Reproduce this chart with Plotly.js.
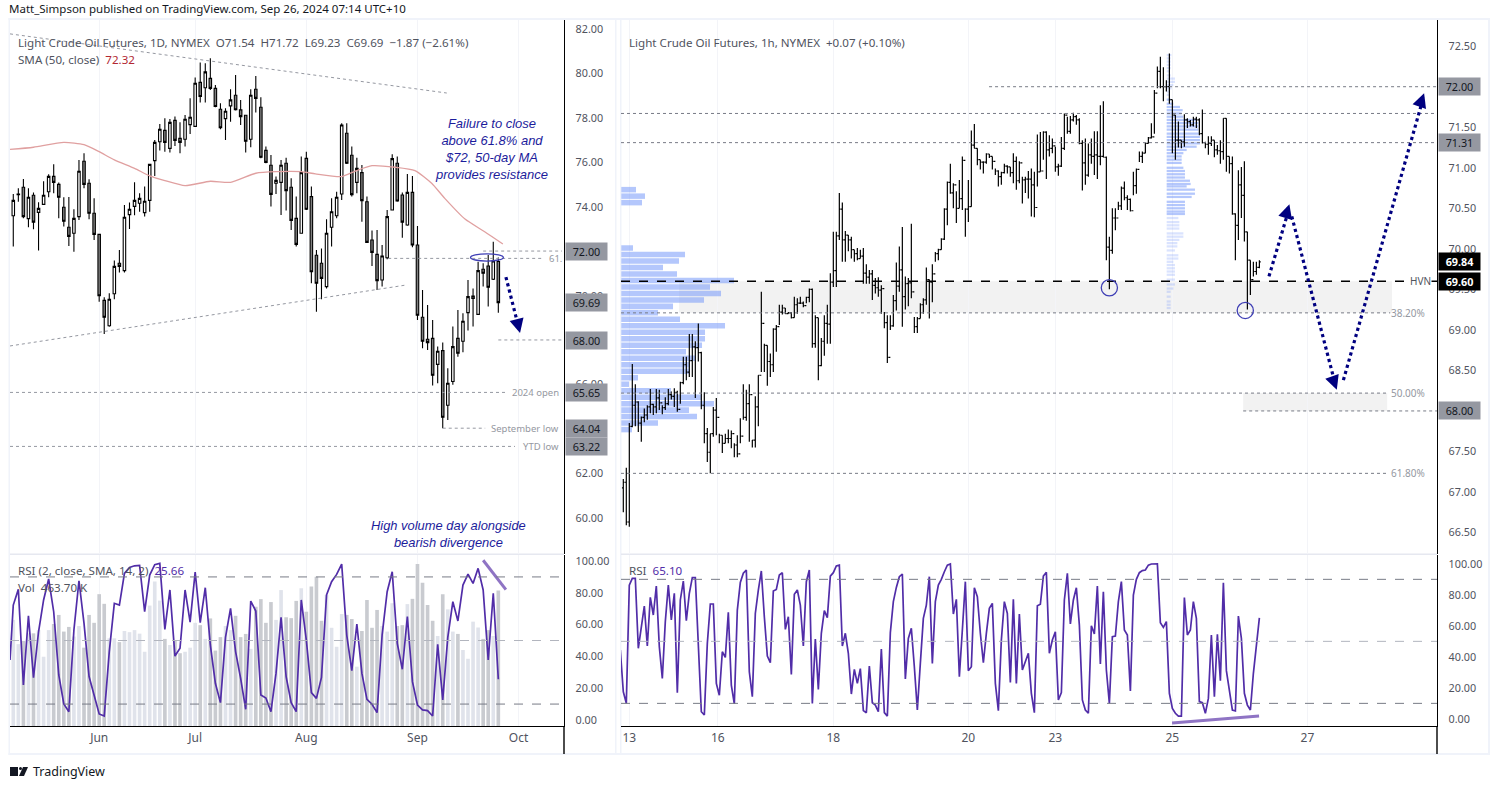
<!DOCTYPE html>
<html><head><meta charset="utf-8">
<script src="https://cdn.plot.ly/plotly-3.0.1.min.js"></script>
<style>html,body{margin:0;padding:0;background:#fff;overflow:hidden}#c{width:1499px;height:789px}</style>
</head><body><div id="c"></div>
<script>
// ---------- Daily chart (left)
const dailyOpen=[73.60,74.55,74.88,73.47,74.52,73.75,74.11,74.68,75.37,75.01,73.98,73.08,72.81,73.56,76.05,75.06,73.71,72.76,69.79,68.65,70.09,71.46,71.13,73.65,74.02,74.16,73.74,74.29,76.08,76.93,77.44,76.63,77.89,77.08,77.04,77.70,77.62,79.60,79.36,79.78,79.33,78.39,77.97,78.54,79.02,78.36,78.12,77.04,79.29,78.48,76.54,75.87,75.06,75.10,75.96,74.88,73.48,72.81,76.18,74.46,71.82,71.46,70.41,73.08,73.60,74.58,77.31,76.32,75.10,75.54,74.23,72.51,71.86,70.71,71.71,73.86,75.96,74.53,73.18,74.65,72.28,69.03,68.04,68.08,66.91,67.53,65.07,66.14,68.08,67.95,69.24,69.88,69.16,71.19,71.34,70.74,71.54];
const dailyHigh=[74.58,74.83,75.25,74.83,74.64,74.20,75.15,75.46,75.91,75.09,74.43,74.44,73.89,76.11,76.41,75.24,74.38,72.76,69.93,70.11,71.58,72.06,74.08,74.19,75.10,74.61,74.91,75.91,77.01,77.73,77.98,77.95,78.06,77.80,78.13,78.88,79.82,80.49,80.46,80.68,79.48,78.66,78.43,79.29,79.93,78.81,78.13,79.29,79.89,78.93,76.71,76.33,75.36,76.11,76.21,75.28,74.46,76.26,76.48,74.91,72.06,72.13,73.44,74.38,74.68,77.76,77.76,76.71,76.21,75.88,74.46,72.93,72.96,72.28,73.86,76.36,76.26,74.64,75.48,75.39,73.14,70.26,69.58,68.91,67.71,67.89,66.74,68.61,69.36,69.21,70.71,70.33,71.53,71.46,71.83,72.43,71.72];
const dailyLow=[72.21,74.23,73.48,73.08,72.99,72.03,74.08,74.43,74.61,73.48,73.11,72.24,71.98,73.41,74.83,73.44,72.51,69.73,68.28,68.60,69.84,71.04,71.04,73.00,73.62,73.78,73.56,73.78,75.39,76.53,76.48,76.44,76.74,76.41,76.71,77.28,77.60,78.69,78.69,79.26,78.48,77.49,77.01,77.83,78.33,77.68,76.44,76.68,78.24,76.18,75.96,74.01,74.58,73.63,73.83,72.96,72.21,72.81,73.86,70.56,69.28,69.84,70.33,72.21,73.48,74.31,75.93,74.46,74.61,73.33,72.39,71.34,70.26,70.41,71.64,73.83,74.23,72.61,73.15,72.18,68.91,67.64,67.56,65.96,66.06,64.04,64.41,65.99,67.26,67.46,68.43,68.61,69.13,70.41,69.51,70.71,69.23];
const dailyClose=[74.29,74.58,73.56,74.43,73.31,73.93,74.52,75.37,75.10,74.43,73.35,72.67,73.48,75.60,75.01,73.71,72.76,70.00,69.03,69.84,71.32,71.32,73.53,73.89,74.29,74.38,74.25,75.91,76.90,77.49,76.90,77.80,76.99,76.90,77.94,78.03,79.56,78.96,80.07,79.33,78.51,77.56,78.30,78.81,78.37,78.06,76.95,79.02,78.88,76.23,76.00,74.56,75.19,75.87,74.73,73.39,72.31,75.54,73.89,71.08,70.56,70.78,72.81,73.78,74.43,77.68,75.96,74.55,75.73,74.28,72.40,71.95,70.68,71.79,73.56,76.17,74.26,73.31,74.65,72.28,69.12,67.95,67.89,66.42,67.50,64.53,66.06,67.71,67.41,68.85,69.96,69.99,71.13,71.01,70.38,71.56,69.69];
const dailyVolumeK=[363,280,291,317,317,328,237,328,349,380,323,339,306,342,268,380,353,451,418,300,300,287,325,321,328,316,254,412,494,429,298,277,294,249,254,268,353,345,298,368,258,304,342,328,377,304,315,264,408,434,353,424,363,465,372,369,428,471,391,477,511,360,448,336,271,383,380,366,203,325,431,336,397,342,323,420,342,345,417,435,554,490,414,360,308,451,399,323,315,260,230,357,337,298,328,308,463.7];
const dailyRsi=[72.3,82.2,22.0,65.6,26.6,55.5,75.5,88.7,68.1,28.3,10.1,5.2,56.6,87.6,60.8,27.3,15.3,3.8,2.5,43.0,73.4,72.3,92.2,96.0,97.0,97.3,68.1,91.2,97.7,98.5,57.0,81.8,40.2,45.1,81.8,61.6,93.1,61.2,83.2,47.2,23.1,10.9,52.0,70.2,43.0,26.2,6.7,74.8,68.5,15.7,13.8,5.2,29.3,64.6,27.3,10.9,5.2,75.5,50.3,17.2,13.6,26.8,78.6,87.0,91.6,98.1,53.4,31.0,60.4,29.3,13.0,9.9,4.6,53.4,80.7,93.3,48.2,31.9,65.0,24.1,9.4,6.3,5.9,2.5,47.6,12.6,52.0,74.4,62.3,84.9,91.8,85.9,95.4,81.8,37.7,79.7,25.66];
const smaIndex=[-0.65,4,10,14,17,20,24,27,30,34,39,43,48,52,57,59.8,65,67.7,71,75.6,79.5,82.8,85.4,89.4,93.3,96.9];
const smaValue=[76.58,76.68,76.90,76.80,76.48,76.11,75.73,75.39,75.18,74.95,75.15,75.10,75.51,75.58,75.58,75.48,75.36,75.61,75.85,75.78,75.63,75.06,74.38,73.45,72.88,72.33];
const dailyPriceTicks=[60,62,66,70,74,76,78,80,82];
const dailyMonthIndex=[17,36,58,80,100];
const dailyMonthText=['Jun','Jul','Aug','Sep','Oct'];
// ---------- Hourly chart (right)
const hourlyOpen=[67.05,67.12,66.63,67.81,68.07,68.11,67.85,67.92,67.95,68.05,68.08,68.05,68.16,68.10,68.04,68.09,68.20,68.18,68.23,68.02,68.35,68.57,68.48,68.62,68.79,68.78,68.72,68.07,67.72,67.49,67.72,68.01,67.92,67.70,67.60,67.66,67.66,67.72,67.58,67.47,67.69,67.92,68.09,68.20,67.64,68.05,68.44,69.08,68.81,68.61,68.57,69.01,69.04,69.22,69.27,69.20,69.21,69.15,69.31,69.33,69.33,69.30,69.40,69.50,68.83,69.15,68.56,68.86,69.08,69.07,69.59,69.73,70.16,70.49,70.11,70.17,70.11,69.99,69.94,69.88,69.91,69.70,69.65,69.69,69.55,69.52,69.49,69.51,69.09,68.66,69.05,69.36,69.54,69.74,69.41,69.57,69.58,69.47,69.04,69.14,69.31,69.37,69.62,69.59,69.69,69.94,69.99,70.12,70.49,70.82,70.69,70.79,70.50,70.62,71.09,70.49,70.52,71.28,71.24,71.10,71.07,71.07,71.17,71.14,71.08,70.96,70.89,70.94,71.02,71.01,70.94,71.08,70.84,71.06,70.85,70.86,70.86,70.79,70.51,70.95,70.96,71.44,71.22,71.24,71.27,71.01,71.02,71.24,71.65,71.45,71.59,71.63,71.59,71.30,71.06,70.91,71.16,71.14,71.16,71.14,71.14,71.13,70.02,69.98,70.38,70.38,70.53,70.75,70.63,70.61,70.47,70.78,70.98,71.14,71.18,71.30,71.37,71.38,71.92,72.19,72.00,72.00,72.00,71.84,71.65,71.34,71.34,71.32,71.59,71.57,71.53,71.60,71.59,71.42,71.31,71.29,71.30,71.34,71.22,71.21,71.20,71.61,71.14,71.05,70.43,70.29,70.79,70.66,70.21,69.86,69.62,69.72,69.77];
const hourlyHigh=[67.16,67.30,67.85,68.58,68.33,68.12,67.93,68.03,68.07,68.27,68.09,68.27,68.26,68.07,68.17,68.27,68.24,68.28,68.25,68.36,68.67,68.67,68.95,68.95,68.86,69.08,68.73,68.23,67.79,67.72,68.05,68.16,67.72,67.70,67.72,67.77,67.76,67.60,67.70,67.91,68.33,68.26,68.33,67.64,68.18,68.44,69.47,68.83,68.81,68.71,69.02,69.06,69.31,69.31,69.27,69.22,69.22,69.41,69.39,69.41,69.35,69.41,69.51,69.51,69.18,69.15,68.90,69.18,69.31,69.70,70.21,70.21,70.69,70.57,70.22,70.17,70.15,69.99,70.01,69.99,70.01,69.81,69.74,69.74,69.64,69.65,69.55,69.22,69.18,69.18,69.43,69.83,70.03,70.27,69.66,69.64,70.31,69.16,69.16,69.33,69.39,69.77,69.62,69.81,69.96,70.00,70.13,70.50,70.83,71.05,70.81,70.71,70.85,71.14,70.50,70.85,71.46,71.54,71.24,71.10,71.08,71.18,71.17,71.14,70.99,70.97,70.95,71.05,71.03,71.01,71.18,71.14,71.08,70.89,70.89,70.96,70.99,70.95,71.41,71.44,71.45,71.45,71.40,71.36,71.26,71.05,71.38,71.67,71.63,71.64,71.68,71.65,71.61,71.34,71.36,71.30,71.36,71.45,71.45,71.77,71.82,71.14,70.15,70.50,70.50,70.58,70.77,70.83,70.66,70.62,70.95,70.99,71.20,71.20,71.31,71.38,71.55,71.96,72.25,72.37,72.24,72.08,72.41,71.84,71.65,71.57,71.34,71.66,71.61,71.59,71.63,71.63,71.61,71.72,71.32,71.39,71.39,71.34,71.28,71.34,71.61,71.61,71.14,71.14,70.44,70.97,71.01,71.08,70.21,69.86,69.84,69.84,69.86];
const hourlyLow=[66.75,66.59,66.57,67.80,67.81,67.74,67.62,67.86,67.89,67.97,67.95,67.97,68.01,67.96,68.01,68.07,68.14,68.05,67.99,68.09,68.33,68.38,68.42,68.42,68.16,68.61,68.02,67.60,67.37,67.23,67.68,67.70,67.60,67.48,67.60,67.60,67.54,67.43,67.43,67.60,67.89,67.88,67.62,67.55,67.55,67.81,68.48,68.48,68.31,68.42,68.48,68.73,69.06,69.19,69.20,69.20,69.14,69.15,69.20,69.32,69.28,69.33,69.34,68.78,68.78,68.38,68.55,68.68,68.83,68.83,69.53,69.53,70.11,69.84,69.84,69.97,69.88,69.84,69.86,69.88,69.57,69.57,69.57,69.37,69.45,69.41,69.20,69.02,68.59,69.00,69.04,69.24,69.47,69.04,69.25,69.29,69.39,68.96,68.96,69.14,69.20,69.31,69.14,69.34,69.84,69.86,69.99,70.11,70.29,70.68,70.50,70.32,70.50,70.48,70.15,70.33,70.52,71.24,71.03,70.98,70.93,71.05,71.12,70.98,70.91,70.77,70.79,70.93,70.93,70.89,70.81,70.73,70.81,70.56,70.69,70.62,70.40,70.39,70.77,70.95,71.10,70.86,71.14,71.18,70.95,70.90,71.01,71.22,71.42,71.42,71.57,71.53,71.29,70.72,70.79,70.89,71.05,70.91,70.86,71.03,71.13,69.86,69.50,69.94,70.23,70.48,70.48,70.60,70.48,70.46,70.66,70.68,71.07,71.06,71.18,71.30,71.36,71.42,71.98,71.98,71.82,71.94,71.79,71.18,71.10,71.25,71.24,71.26,71.49,71.51,71.51,71.49,71.40,71.30,71.24,71.16,71.27,71.13,71.16,71.05,71.10,70.95,70.93,70.42,69.86,70.11,70.38,70.09,69.25,69.43,69.66,69.68,69.76];
const hourlyClose=[67.12,66.63,67.81,68.07,68.11,67.85,67.92,67.95,68.05,68.08,68.05,68.16,68.10,68.04,68.09,68.20,68.18,68.23,68.02,68.35,68.57,68.48,68.62,68.79,68.78,68.72,68.07,67.72,67.49,67.72,68.01,67.92,67.70,67.60,67.66,67.66,67.72,67.58,67.47,67.69,67.92,68.09,68.20,67.64,68.05,68.44,69.08,68.81,68.61,68.57,69.01,69.04,69.22,69.27,69.20,69.21,69.15,69.31,69.33,69.33,69.30,69.40,69.50,68.83,69.15,68.56,68.86,69.08,69.07,69.59,69.73,70.16,70.49,70.11,70.17,70.11,69.99,69.94,69.88,69.91,69.70,69.65,69.69,69.55,69.52,69.49,69.51,69.09,68.66,69.05,69.36,69.54,69.74,69.41,69.57,69.58,69.47,69.04,69.14,69.31,69.37,69.62,69.59,69.69,69.94,69.99,70.12,70.49,70.82,70.69,70.79,70.50,70.62,71.09,70.49,70.52,71.28,71.24,71.10,71.07,71.07,71.17,71.14,71.08,70.96,70.89,70.94,71.02,71.01,70.94,71.08,70.84,71.06,70.85,70.86,70.86,70.79,70.51,70.95,70.96,71.44,71.22,71.24,71.27,71.01,71.02,71.24,71.65,71.45,71.59,71.63,71.59,71.30,71.06,70.91,71.16,71.14,71.16,71.14,71.14,71.13,70.02,69.98,70.38,70.38,70.53,70.75,70.63,70.61,70.47,70.78,70.98,71.14,71.18,71.30,71.37,71.38,71.92,72.19,72.00,72.00,72.00,71.84,71.65,71.34,71.34,71.32,71.59,71.57,71.53,71.60,71.59,71.42,71.31,71.29,71.30,71.34,71.22,71.21,71.20,71.61,71.14,71.05,70.43,70.29,70.79,70.66,70.21,69.86,69.62,69.72,69.77,69.84];
const hourlyRsi=[44.4,17.5,10.0,86.3,90.6,90.6,45.5,59.5,72.8,47.0,78.4,67.0,85.7,46.6,26.1,62.7,86.3,63.8,81.0,16.9,76.7,88.9,63.3,81.0,91.1,91.1,44.4,4.6,2.5,48.7,74.1,74.1,22.9,15.2,43.3,39.7,68.7,21.8,9.6,70.2,88.0,93.9,96.0,30.4,14.3,68.0,83.1,95.4,65.9,40.5,36.2,82.5,83.5,92.8,94.3,57.7,65.9,28.7,80.3,83.1,73.4,47.0,88.5,96.0,10.0,51.5,19.0,55.2,69.8,65.3,92.1,94.3,98.6,99.2,47.0,55.2,42.3,16.0,31.9,22.9,32.4,5.3,4.0,34.1,10.4,8.9,4.6,45.0,4.0,1.8,55.6,75.6,84.8,91.7,93.4,25.7,51.9,58.4,33.6,5.7,35.8,64.8,73.4,91.7,35.8,75.6,86.3,90.0,94.9,99.2,99.9,67.6,77.1,27.2,57.3,88.5,31.1,33.6,84.6,78.8,55.2,36.2,55.2,71.3,74.5,22.9,5.3,50.9,75.6,68.0,23.5,77.1,22.9,67.6,31.5,36.9,42.3,16.5,4.0,73.0,73.9,92.1,94.5,42.3,50.9,56.2,12.2,16.9,76.7,93.9,61.2,76.7,84.6,60.5,12.2,5.7,3.6,60.1,54.7,85.7,35.4,82.0,31.5,10.0,53.0,53.4,75.6,88.5,57.3,54.1,18.0,79.9,90.0,94.3,95.6,96.0,99.2,99.9,100,100,62.0,59.0,62.7,16.5,6.8,3.6,1.8,1.8,78.2,54.1,57.3,75.6,64.8,11.1,10.4,3.6,13.2,54.1,14.3,54.5,24.6,87.8,31.1,18.6,5.7,5.1,66.3,51.9,16.5,8.9,5.7,29.4,46.5,65.1];
const hourlyPriceTicks=[66.5,67,67.5,68.5,69,69.5,70,70.5,71,71.5,72.5];
const hourlyDayIndex=[2,31.5,70,115,144,183,228];
const hourlyDayText=['13','16','18','20','23','25','27'];
// Volume profiles (price level, relative size)
const profileAPrice=[70.73,70.65,70.57,70.01,69.93,69.85,69.77,69.69,69.61,69.53,69.45,69.37,69.29,69.21,69.13,69.05,68.97,68.89,68.81,68.73,68.65,68.57,68.49,68.41,68.33,68.25,68.17,68.09,68.01,67.93,67.85,67.77];
const profileASize=[14.7,23.7,20.7,11.7,63.7,57.7,41.7,55.7,112.7,88.7,99.7,82.7,51.7,36.7,58.7,103.7,83.7,83.7,80.7,64.7,73.7,67.7,67.7,16.7,7.7,49.7,79.7,92.7,67.7,75.7,36.7,10.7];
const profileBPrice=[71.84,71.79,71.75,71.71,71.67,71.63,71.59,71.55,71.51,71.47,71.42,71.38,71.34,71.30,71.26,71.22,71.18,71.14,71.10,71.06,71.00,70.96,70.92,70.88,70.84,70.80,70.77,70.73,70.68,70.64,70.58,70.54,70.50,70.46,70.43];
const profileBSize=[4,6.7,13.3,16,15,16.7,30,31.7,31.7,31.7,33.3,33.3,33.3,33.3,30,20,16.7,15,15,15,16.7,18.3,18.3,18.3,23.3,24,20,28.3,28.3,25,18.3,18.3,18.3,18.3,18.3];
const profileCPrice=[72.39,72.35,72.31,72.27,72.23,72.19,72.14,72.10,72.06,72.02,71.98,71.94,71.90,70.38,70.33,70.29,70.25,70.19,70.15,70.11,70.07,70.03,69.98,69.92,69.88,69.84,69.80,69.76,69.72,69.68,69.62,69.56,69.51,69.47,69.41,69.35,69.31,69.27];
const profileCSize=[4.7,4,4,4,4,3.3,4,8.3,8.3,6.7,5,3.3,2.7,11.7,12.7,12.7,12.7,16.7,16.7,12.7,10.7,10.7,8.3,11.7,11.7,6.7,8.3,8.3,8.3,8.3,8.3,8.3,6.7,4,4,4,4,4];
const rsiTicks=[0,20,40,60,80,100];

// ---------- Layout helpers
const W=1499,H=789,FONT='"Noto Sans",sans-serif',GREY='#50535e';
const fx=p=>p/W, fy=p=>1-p/H;
const dailyX=dailyOpen.map((_,i)=>i), hourlyX=hourlyOpen.map((_,i)=>i);
const hLast=hourlyX.length-1;
const rsiHourX=hourlyRsi.map((_,k)=>hLast-(hourlyRsi.length-1-k));
const tickAxis=(vals,rng,dom)=>({domain:dom,range:rng,side:'right',tickmode:'array',tickvals:vals,tickformat:'.2f',ticks:'outside',ticklen:8,tickcolor:'rgba(0,0,0,0)',tickfont:{family:FONT,size:10.8,color:GREY},showgrid:false,zeroline:false,showline:true,linecolor:'#000',linewidth:1.4,fixedrange:true});
const xMain=(vals,rng,dom)=>({domain:dom,range:rng,tickmode:'array',tickvals:vals,showticklabels:false,ticks:'',showgrid:true,gridcolor:'#f3f4f8',gridwidth:1,zeroline:false,showline:false,fixedrange:true,rangeslider:{visible:false}});
const xRsi=(vals,text,rng,dom,an)=>({domain:dom,range:rng,anchor:an,tickmode:'array',tickvals:vals,ticktext:text,ticks:'',tickfont:{family:FONT,size:12,color:GREY},showgrid:true,gridcolor:'#f3f4f8',zeroline:false,showline:true,linecolor:'#000',linewidth:1.4,fixedrange:true});

const shapes=[];
const hline=(xr,yr,x0,x1,y,color,dash,w)=>shapes.push({type:'line',xref:xr,yref:yr,x0,x1,y0:y,y1:y,line:{color,dash,width:w}});
const seg=(xr,yr,x0,y0,x1,y1,color,dash,w)=>shapes.push({type:'line',xref:xr,yref:yr,x0,y0,x1,y1,line:{color,dash,width:w}});
const rect=(xr,yr,x0,x1,y0,y1,fill)=>shapes.push({type:'rect',layer:'below',xref:xr,yref:yr,x0,x1,y0,y1,fillcolor:fill,line:{width:0}});
const circle=(xr,yr,x0,x1,y0,y1)=>shapes.push({type:'circle',xref:xr,yref:yr,x0,x1,y0,y1,line:{color:'#3f3fb5',width:1.3}});
// frame gutters
[[8.5,10,18,755],[615,616.5,18,755],[620,621.5,18,755],[1488,1490,18,755],[8.5,1490,18,20],[8.5,1490,753,755]].forEach(r=>rect('paper','paper',fx(r[0]),fx(r[1]),fy(r[2]),fy(r[3]),'#f0f3fa'));
rect('paper','paper',fx(10),fx(564),fy(553.5),fy(555),'#e6e8f0');
rect('paper','paper',fx(621),fx(1437),fy(553.5),fy(555),'#e6e8f0');
// axis stubs down to the time scale bottom
seg('paper','paper',fx(564),fy(726),fx(564),fy(754),'#000','solid',1.4);
seg('paper','paper',fx(1437),fy(726),fx(1437),fy(754),'#000','solid',1.4);

// Left drawings
const LG='#9598a1';
seg('x','y',-0.65,81.78,85.8,79.12,LG,'dot',1);
seg('x','y',-0.65,67.74,77.7,70.48,LG,'dot',1);
hline('x','y',74.2,104.8,71.68,LG,'dot',1);
hline('x','y',93,108.6,72.01,LG,'dot',1);
hline('x','y',96,108.6,68.01,LG,'dot',1);
hline('x','y',-0.65,97.7,65.65,LG,'dot',1);
hline('x','y',85,93.4,64.04,LG,'dot',1);
hline('x','y',-0.65,99.3,63.22,LG,'dot',1);
circle('x','y',90.5,97,71.56,71.88);
seg('x','y',97.5,70.84,100,68.6,'#000080','dot',3.2);
seg('x2','y3r',93,100.5,97.5,82,'#8f74c4','solid',3);
// Left RSI bands
hline('x2','y3r',-0.65,109,90,'#787b86','dash',1);
hline('x2','y3r',-0.65,109,50,'#b2b5be','dash',1);
hline('x2','y3r',-0.65,109,10,'#787b86','dash',1);
// Right drawings
const DG='#787b86';
rect('x3','y3',18.6,256.2,69.21,69.60,'#f2f2f2');
rect('x3','y3',206.6,254.6,68.00,68.22,'#f2f2f2');
hline('x3','y3',121.9,271.2,72.00,DG,'dot',1);
hline('x3','y3',-0.77,271.2,71.67,DG,'dot',1);
hline('x3','y3',-0.77,271.2,71.31,DG,'dot',1);
hline('x3','y3',-0.77,271.2,69.60,'#000','dash',1.3);
hline('x3','y3',-0.77,255.6,69.21,DG,'dot',1);
hline('x3','y3',-0.77,254.6,68.22,DG,'dot',1);
hline('x3','y3',206.6,271.2,68.00,DG,'dot',1);
hline('x3','y3',-0.77,254.6,67.23,DG,'dot',1);
circle('x3','y3',159.3,164.7,69.42,69.62);
circle('x3','y3',204.6,210,69.14,69.34);
seg('x3','y3',215.2,69.66,221.3,70.42,'#000080','dot',3.2);
seg('x3','y3',222.8,70.40,236.8,68.40,'#000080','dot',3.2);
seg('x3','y3',240,68.38,266,71.78,'#000080','dot',3.2);
seg('x4','y4',182.9,-2.7,211.9,1.8,'#8f74c4','solid',3);
hline('x4','y4',-0.77,271.2,90,'#787b86','dash',1);
hline('x4','y4',-0.77,271.2,50,'#b2b5be','dash',1);
hline('x4','y4',-0.77,271.2,10,'#787b86','dash',1);
// TradingView logo
shapes.push({type:'rect',xref:'paper',yref:'paper',x0:fx(10),x1:fx(18),y0:fy(767),y1:fy(776),fillcolor:'#131722',line:{width:0}});
shapes.push({type:'circle',xref:'paper',yref:'paper',x0:fx(19),x1:fx(22),y0:fy(767),y1:fy(770),fillcolor:'#131722',line:{width:0}});
shapes.push({type:'path',xref:'paper',yref:'paper',path:`M ${fx(23)} ${fy(767)} L ${fx(28)} ${fy(767)} L ${fx(24)} ${fy(776)} L ${fx(19)} ${fy(776)} Z`,fillcolor:'#131722',line:{width:0}});

// ---------- Annotations
const ann=[];
const txt=(x,y,text,o={})=>ann.push({xref:'paper',yref:'paper',x:fx(x),y:fy(y),text,showarrow:false,xanchor:o.a||'left',yanchor:'middle',align:o.al||'left',font:{family:o.f||FONT,size:o.s||11.6,color:o.c||GREY}});
const dtx=(xr,yr,x,y,text,o={})=>ann.push({xref:xr,yref:yr,x,y,text,showarrow:false,xanchor:'right',yanchor:'middle',bgcolor:o.bg,borderpad:0,font:{family:FONT,size:o.s||9.5,color:o.c||'#9598a1'}});
const tag=(pxX,yr,y,text,bg,c)=>ann.push({xref:'paper',yref:yr,x:fx(pxX),y,text,showarrow:false,xanchor:'left',yanchor:'middle',width:40,height:15.5,align:'center',bgcolor:bg,borderpad:0.5,font:{family:FONT,size:10.8,color:c}});
const arrow=(xr,yr,x,y,ax,ay)=>ann.push({xref:xr,yref:yr,axref:'pixel',ayref:'pixel',x,y,ax,ay,text:'',showarrow:true,arrowhead:2,arrowsize:0.95,arrowwidth:3,arrowcolor:'#000080'});
txt(7,8,'Matt_Simpson published on TradingView.com, Sep 26, 2024 07:14 UTC+10',{s:11.5,c:'#131722'});
txt(31,771,'TradingView',{s:12.5,c:'#131722'});
txt(16,42,'Light Crude Oil Futures, 1D, NYMEX&nbsp;&nbsp;O71.54&nbsp;&nbsp;H71.72&nbsp;&nbsp;L69.23&nbsp;&nbsp;C69.69&nbsp;&nbsp;−1.87 (−2.61%)');
txt(16,59,'SMA (50, close)&nbsp;&nbsp;<span style="color:#b22833">72.32</span>');
txt(16,570,'RSI (2, close, SMA, 14, 2)&nbsp;&nbsp;<span style="color:#512da8">25.66</span>');
txt(16,587,'Vol&nbsp;&nbsp;463.70 K');
txt(627,42,'Light Crude Oil Futures, 1h, NYMEX&nbsp;&nbsp;+0.07 (+0.10%)');
txt(627,570,'RSI&nbsp;&nbsp;<span style="color:#512da8">65.10</span>');
const NOTE='"Liberation Sans",Arial,sans-serif';
txt(492,149,'<i>Failure to close<br>above 61.8% and<br>$72, 50-day MA<br>provides resistance</i>',{a:'center',al:'center',s:13,c:'#1c1c9c',f:NOTE});
txt(448,534,'<i>High volume day alongside<br>bearish divergence</i>',{a:'center',al:'center',s:12.9,c:'#1c1c9c',f:NOTE});
dtx('paper','y',fx(563),71.68,'61.');
dtx('paper','y',fx(560),65.65,'2024 open');
dtx('paper','y',fx(560),64.04,'September low');
dtx('paper','y',fx(560),63.22,'YTD low');
dtx('paper','y3',fx(1432),69.60,'HVN',{bg:'#ffffff',s:10,c:'#50535e'});
dtx('paper','y3',fx(1426),69.21,'38.20%',{s:10});
dtx('paper','y3',fx(1426),68.22,'50.00%',{s:10});
dtx('paper','y3',fx(1426),67.23,'61.80%',{s:10});
tag(565,'y',72.00,'72.00','#9598a1','#131722');
tag(565,'y',69.69,'69.69','#9598a1','#131722');
tag(565,'y',68.00,'68.00','#9598a1','#131722');
tag(565,'y',65.65,'65.65','#9598a1','#131722');
tag(565,'y',64.04,'64.04','#9598a1','#131722');
tag(565,'y',63.22,'63.22','#9598a1','#131722');
tag(1438,'y3',72.00,'72.00','#9598a1','#131722');
tag(1438,'y3',71.31,'71.31','#9598a1','#131722');
tag(1438,'y3',68.00,'68.00','#9598a1','#131722');
tag(1438,'y3',69.84,'<b>69.84</b>','#000','#fff');
tag(1438,'y3',69.60,'<b>69.60</b>','#000','#fff');
arrow('x','y',100.3,68.32,-3,-12);
arrow('x3','y3',222,70.55,-4,13);
arrow('x3','y3',237.8,68.26,-5,-14);
arrow('x3','y3',266.9,71.92,-5,14);
// y3r is the RSI scale of the left panel
shapes.forEach(s=>{if(s.yref==='y3r')s.yref='y5';});

// ---------- Traces
const upDown=dailyClose.map((c,i)=>c>=dailyOpen[i]?'#e0e3eb':'#c9cbd0');
const BLUE='rgba(118,153,250,0.55)', PALE='rgba(118,153,250,0.27)';
const traces=[
 {type:'candlestick',x:dailyX,open:dailyOpen,high:dailyHigh,low:dailyLow,close:dailyClose,xaxis:'x',yaxis:'y',whiskerwidth:0,width:0.55,
  increasing:{line:{color:'#000',width:1.1},fillcolor:'#ffffff'},decreasing:{line:{color:'#000',width:1.1},fillcolor:'#808080'},hoverinfo:'skip'},
 {type:'scatter',mode:'lines',x:smaIndex,y:smaValue,xaxis:'x',yaxis:'y',line:{color:'#e0a0a0',width:1.3,shape:'spline',smoothing:0.6},hoverinfo:'skip'},
 {type:'bar',x:dailyX,y:dailyVolumeK,xaxis:'x2',yaxis:'y2',marker:{color:upDown,line:{width:0}},width:0.72,hoverinfo:'skip'},
 {type:'scatter',mode:'lines',x:[-0.65].concat(dailyX),y:[37.7].concat(dailyRsi),xaxis:'x2',yaxis:'y5',line:{color:'#512da8',width:1.7},hoverinfo:'skip'},
 {type:'bar',orientation:'h',y:profileAPrice,x:profileASize.map(v=>v/3),base:-0.67,xaxis:'x3',yaxis:'y3',width:0.068,marker:{color:BLUE,line:{width:0}},hoverinfo:'skip'},
 {type:'bar',orientation:'h',y:profileBPrice,x:profileBSize.map(v=>v/3),base:181.1,xaxis:'x3',yaxis:'y3',width:0.028,marker:{color:BLUE,line:{width:0}},hoverinfo:'skip'},
 {type:'bar',orientation:'h',y:profileCPrice,x:profileCSize.map(v=>v/3),base:181.1,xaxis:'x3',yaxis:'y3',width:0.028,marker:{color:PALE,line:{width:0}},hoverinfo:'skip'},
 {type:'ohlc',x:hourlyX,open:hourlyOpen,high:hourlyHigh,low:hourlyLow,close:hourlyClose,xaxis:'x3',yaxis:'y3',tickwidth:0.45,
  increasing:{line:{color:'#000',width:1.2}},decreasing:{line:{color:'#000',width:1.2}},hoverinfo:'skip'},
 {type:'scatter',mode:'lines',x:rsiHourX,y:hourlyRsi,xaxis:'x4',yaxis:'y4',line:{color:'#512da8',width:1.7},hoverinfo:'skip'}
];

const dxL=[fx(10),fx(564)], dxR=[fx(621),fx(1437)], dyM=[fy(554),fy(20)], dyR=[fy(726),fy(555)];
const rngL=[-0.65,109], rngR=[-0.77,271.2];
const layout={
 width:W,height:H,margin:{l:0,r:0,t:0,b:0},paper_bgcolor:'#fff',plot_bgcolor:'rgba(0,0,0,0)',showlegend:false,barmode:'overlay',hovermode:false,dragmode:false,
 xaxis:Object.assign(xMain(dailyMonthIndex,rngL,dxL),{anchor:'y'}),
 yaxis:Object.assign(tickAxis(dailyPriceTicks,[58.38,82.405],dyM),{anchor:'x'}),
 xaxis2:xRsi(dailyMonthIndex,dailyMonthText,rngL,dxL,'y2'),
 yaxis2:{domain:dyR,range:[0,585],anchor:'x2',showticklabels:false,ticks:'',showgrid:false,zeroline:false,showline:false,fixedrange:true},
 yaxis5:Object.assign(tickAxis(rsiTicks,[-3.8,103.8],dyR),{overlaying:'y2',anchor:'x2'}),
 xaxis3:Object.assign(xMain(hourlyDayIndex,rngR,dxR),{anchor:'y3'}),
 yaxis3:Object.assign(tickAxis(hourlyPriceTicks,[66.235,72.823],dyM),{anchor:'x3'}),
 xaxis4:xRsi(hourlyDayIndex,hourlyDayText,rngR,dxR,'y4'),
 yaxis4:Object.assign(tickAxis(rsiTicks,[-4.6,105.7],dyR),{anchor:'x4'}),
 shapes,annotations:ann
};
Plotly.newPlot('c',traces,layout,{displayModeBar:false,staticPlot:true});
</script></body></html>
